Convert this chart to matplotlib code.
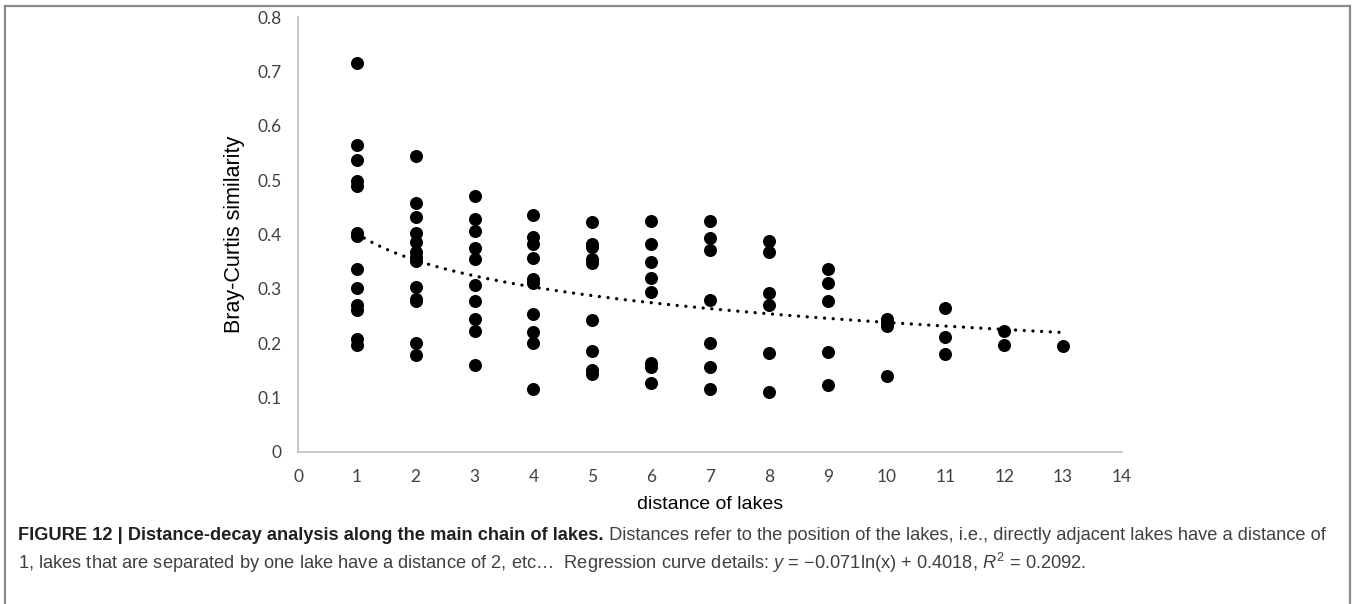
import numpy as np
import matplotlib
matplotlib.use('Agg')
import matplotlib.pyplot as plt
from matplotlib.lines import Line2D

# distance of lakes -> Bray-Curtis similarity values
dist_1 = [0.715, 0.565, 0.537, 0.498, 0.490, 0.402, 0.398, 0.337, 0.301, 0.270, 0.262, 0.208, 0.196]
dist_2 = [0.545, 0.458, 0.433, 0.402, 0.387, 0.367, 0.358, 0.352, 0.304, 0.282, 0.277, 0.200, 0.178]
dist_3 = [0.470, 0.428, 0.406, 0.375, 0.355, 0.307, 0.277, 0.244, 0.222, 0.160]
dist_4 = [0.435, 0.395, 0.383, 0.356, 0.318, 0.311, 0.254, 0.220, 0.201, 0.116]
dist_5 = [0.423, 0.383, 0.377, 0.355, 0.347, 0.243, 0.185, 0.150, 0.143]
dist_6 = [0.424, 0.383, 0.350, 0.320, 0.294, 0.163, 0.157, 0.127]
dist_7 = [0.424, 0.393, 0.371, 0.279, 0.200, 0.157, 0.116]
dist_8 = [0.388, 0.367, 0.292, 0.270, 0.182, 0.111]
dist_9 = [0.337, 0.311, 0.277, 0.184, 0.124]
dist_10 = [0.245, 0.238, 0.232, 0.140]
dist_11 = [0.265, 0.212, 0.181]
dist_12 = [0.222, 0.196]
dist_13 = [0.195]

columns = [dist_1, dist_2, dist_3, dist_4, dist_5, dist_6, dist_7,
           dist_8, dist_9, dist_10, dist_11, dist_12, dist_13]

# log regression from the caption: y = a*ln(x) + b
coef_a, coef_b = -0.071, 0.4018

xs = np.concatenate([[i + 1] * len(c) for i, c in enumerate(columns)])
ys = np.concatenate(columns)

fig = plt.figure(figsize=(13.54, 6.04), dpi=100)
ax = fig.add_axes([298 / 1354, 1 - 452 / 604, 824 / 1354, 435 / 604])

ax.scatter(xs, ys, s=88, color='black', zorder=3, linewidths=0)

xf = np.linspace(1, 13, 200)
ax.plot(xf, coef_a * np.log(xf) + coef_b, color='black', lw=2.4,
        linestyle=(0, (0.01, 2.6)), dash_capstyle='round', zorder=2)

ax.set_xlim(0, 14)
ax.set_ylim(0, 0.8)
ax.set_xticks(range(0, 15))
ax.set_yticks(np.arange(0, 0.81, 0.1))
ax.set_yticklabels(['0', '0.1', '0.2', '0.3', '0.4', '0.5', '0.6', '0.7', '0.8'])
for s in ['top', 'right']:
    ax.spines[s].set_visible(False)
for s in ['left', 'bottom']:
    ax.spines[s].set_color('#bfbfbf')
    ax.spines[s].set_linewidth(1.2)
ax.tick_params(length=0, labelsize=12.5, colors='#404040', pad=12)
for lab in ax.get_xticklabels() + ax.get_yticklabels():
    lab.set_fontfamily('Lato')
ax.set_xlabel('distance of lakes', fontsize=14, family='Liberation Sans', labelpad=8)
ax.set_ylabel('Bray-Curtis similarity', fontsize=15.5, family='Liberation Sans', labelpad=9)

# frame around the figure panel
for xy in [([5, 5], [604, 6]), ([5, 1350], [6, 6]), ([1350, 1350], [6, 604])]:
    fig.add_artist(Line2D(np.array(xy[0]) / 1354, 1 - np.array(xy[1]) / 604,
                          color='#8a8a8a', lw=1.6))

# caption
plt.rcParams['mathtext.fontset'] = 'custom'
plt.rcParams['mathtext.rm'] = 'Liberation Sans'
plt.rcParams['mathtext.it'] = 'Liberation Sans:italic'

bold_txt = 'FIGURE 12 | Distance-decay analysis along the main chain of lakes.'
line1_txt = (' Distances refer to the position of the lakes, i.e., directly adjacent '
             'lakes have a distance of')
line2_txt = (r'1, lakes that are separated by one lake have a distance of 2, etc$\ldots$  '
             r'Regression curve details: $y$ = $-$0.071ln(x) + 0.4018, $R^2$ = 0.2092.')

fsize = 10.5
x0, y1, y2 = 18 / 1354, 1 - 540 / 604, 1 - 569 / 604
renderer = fig.canvas.get_renderer()
t_b = fig.text(x0, y1, bold_txt, fontsize=fsize, weight='bold',
               family='Liberation Sans', color='#231f20')
t_r = fig.text(0, y1, line1_txt, fontsize=fsize, family='Liberation Sans', color='#404040')
total = t_b.get_window_extent(renderer).width + t_r.get_window_extent(renderer).width
fsize = fsize * (1318 / total)
t_b.set_fontsize(fsize)
t_r.set_fontsize(fsize)
wb = t_b.get_window_extent(renderer).width
t_r.set_x(x0 + wb / 1354)
fig.text(x0, y2, line2_txt, fontsize=fsize, family='Liberation Sans', color='#404040')

fig.savefig('out.png', dpi=100)
